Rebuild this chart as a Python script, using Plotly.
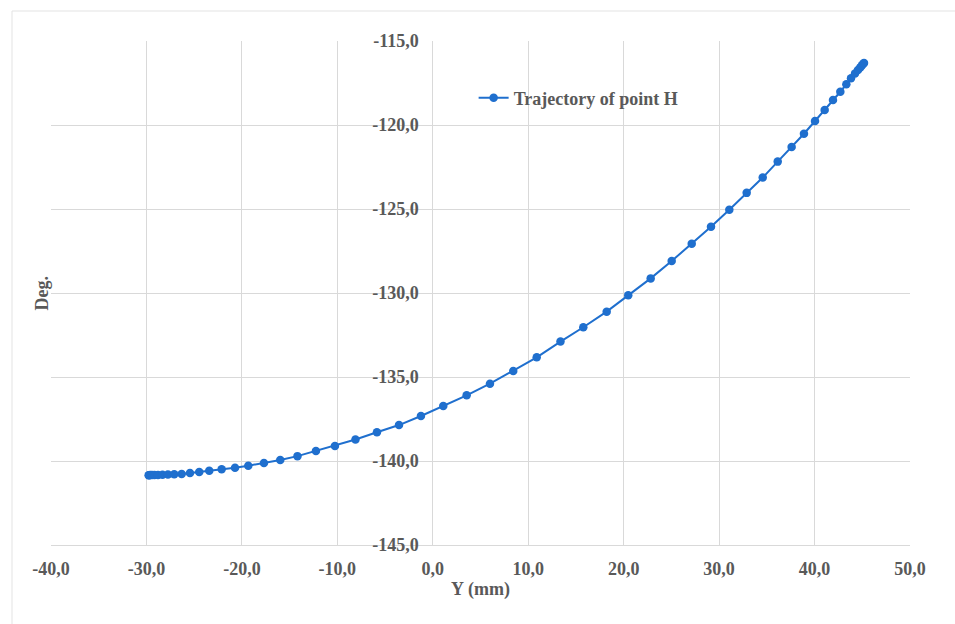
import plotly.graph_objects as go

# Trajectory of point H: Y (mm) vs angle (deg.)
y_mm = [-29.77, -29.72, -29.61, -29.42, -29.16, -28.79, -28.32, -27.75, -27.09, -26.31,
        -25.44, -24.47, -23.42, -22.12, -20.72, -19.33, -17.69, -15.98, -14.18, -12.24,
        -10.25, -8.10, -5.85, -3.54, -1.24, 1.10, 3.55, 5.99, 8.43, 10.89,
        13.38, 15.77, 18.22, 20.48, 22.83, 25.03, 27.13, 29.15, 31.07, 32.89,
        34.57, 36.14, 37.60, 38.89, 40.05, 41.06, 41.93, 42.70, 43.33, 43.82,
        44.24, 44.55, 44.79, 44.97, 45.10, 45.18]
deg = [-140.85, -140.85, -140.84, -140.84, -140.83, -140.83, -140.82, -140.80, -140.79, -140.77,
       -140.71, -140.65, -140.58, -140.49, -140.40, -140.28, -140.12, -139.94, -139.71, -139.40,
       -139.11, -138.72, -138.29, -137.86, -137.32, -136.73, -136.09, -135.40, -134.64, -133.83,
       -132.89, -132.04, -131.11, -130.14, -129.13, -128.10, -127.07, -126.05, -125.04, -124.04,
       -123.13, -122.18, -121.31, -120.52, -119.76, -119.11, -118.51, -118.02, -117.58, -117.22,
       -116.93, -116.73, -116.57, -116.45, -116.36, -116.31]

series_name = "Trajectory of point H"
x_title = "Y (mm)"
y_title = "Deg."
x_tickvals = [-40, -30, -20, -10, 0, 10, 20, 30, 40, 50]
x_ticktext = ["-40,0", "-30,0", "-20,0", "-10,0", "0,0", "10,0", "20,0", "30,0", "40,0", "50,0"]
y_tickvals = [-145, -140, -135, -130, -125, -120, -115]
y_ticktext = ["-145,0", "-140,0", "-135,0", "-130,0", "-125,0", "-120,0", "-115,0"]
x_range = [-40, 50]
y_range = [-145, -115]

BLUE = "#1f6fce"
GRID = "#d9d9d9"
TXT = "#595959"
FONT = "Liberation Serif"

fig = go.Figure()
fig.add_trace(go.Scatter(
    x=y_mm, y=deg, mode="lines+markers", name=series_name,
    line=dict(color=BLUE, width=2),
    marker=dict(color=BLUE, size=8.5),
))

fig.update_layout(
    width=955, height=624,
    margin=dict(l=51, r=45, t=41, b=79),
    paper_bgcolor="white", plot_bgcolor="white",
    font=dict(family=FONT, size=18, color=TXT),
    showlegend=True,
    legend=dict(x=0.492, y=0.887, xanchor="left", yanchor="middle",
                bgcolor="rgba(0,0,0,0)",
                font=dict(family=FONT, size=18, color=TXT, weight="bold")),
    xaxis=dict(range=x_range, tickmode="array", tickvals=x_tickvals, ticktext=x_ticktext,
               showgrid=True, gridcolor=GRID, gridwidth=1, zeroline=False,
               showline=True, linecolor=GRID, linewidth=1, mirror=False,
               ticks="", ticklabelstandoff=7,
               tickfont=dict(family=FONT, size=18, color=TXT, weight="bold"),
               title=dict(text=x_title, standoff=4,
                          font=dict(family=FONT, size=18, color=TXT, weight="bold"))),
    yaxis=dict(range=y_range, tickmode="array", tickvals=y_tickvals, ticktext=y_ticktext,
               anchor="free", position=0.4444,
               showgrid=True, gridcolor=GRID, gridwidth=1, zeroline=False,
               showline=False, ticks="", ticklabelstandoff=14,
               tickfont=dict(family=FONT, size=18, color=TXT, weight="bold")),
    annotations=[dict(text=y_title, xref="paper", yref="paper", x=-0.011, y=0.5,
                      textangle=-90, showarrow=False, xanchor="center", yanchor="middle",
                      font=dict(family=FONT, size=18, color=TXT, weight="bold"))],
    shapes=[
        dict(type="line", xref="paper", yref="paper", x0=-0.0454, x1=1.2, y0=1.0595, y1=1.0595,
             line=dict(color="#e3e3e3", width=1)),
        dict(type="line", xref="paper", yref="paper", x0=-0.0454, x1=-0.0454, y0=-0.3, y1=1.0595,
             line=dict(color="#e3e3e3", width=1)),
    ],
)

fig.write_html("out.html")
